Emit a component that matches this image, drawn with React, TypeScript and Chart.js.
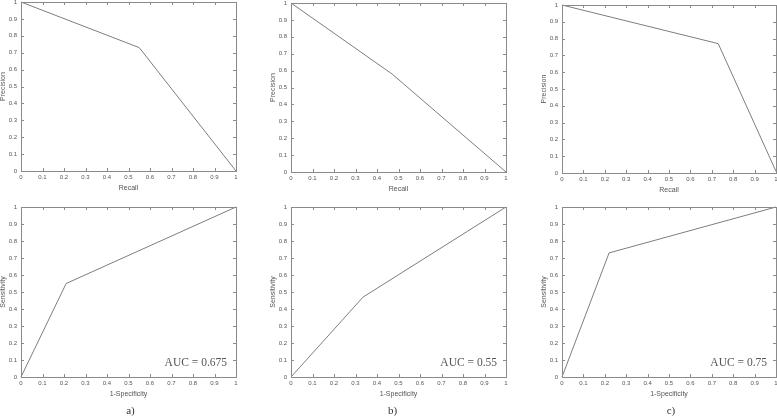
import React, { useEffect, useRef } from 'react';
import { Chart, registerables } from 'chart.js';

Chart.register(...registerables);

// ---- data ----
const tickValues = [0, 0.1, 0.2, 0.3, 0.4, 0.5, 0.6, 0.7, 0.8, 0.9, 1];
const tickLabels = ['0', '0.1', '0.2', '0.3', '0.4', '0.5', '0.6', '0.7', '0.8', '0.9', '1'];

const prRecallA = [0, 0.55, 1];
const prPrecisionA = [1, 0.73, 0];
const prRecallB = [0, 0.47, 1];
const prPrecisionB = [1, 0.58, 0];
const prRecallC = [0, 0.73, 1];
const prPrecisionC = [1, 0.77, 0.01];

const rocFprA = [0, 0.21, 1];
const rocTprA = [0, 0.55, 1];
const rocFprB = [0, 0.335, 1];
const rocTprB = [0, 0.47, 1];
const rocFprC = [0, 0.22, 1];
const rocTprC = [0, 0.73, 1];

const aucLabels = ['AUC = 0.675', 'AUC = 0.55', 'AUC = 0.75'];
const panelLabels = ['a)', 'b)', 'c)'];

// ---- drawing helpers ----
const BOX = '#8a8a8a';
const LINE = '#7d7d7d';
const TEXT = '#555555';

const matlabPlugin = {
  id: 'matlabBox',
  afterDatasetsDraw(chart: any, _args: any, opts: any) {
    const { ctx, chartArea } = chart;
    const { left, right, top, bottom } = chartArea;
    const xs = chart.scales.x;
    const ys = chart.scales.y;
    ctx.save();
    ctx.strokeStyle = BOX;
    ctx.lineWidth = 1;
    ctx.strokeRect(Math.round(left) + 0.5, Math.round(top) + 0.5, Math.round(right - left), Math.round(bottom - top));
    const tl = 3;
    ctx.beginPath();
    tickValues.forEach((v) => {
      const px = Math.round(xs.getPixelForValue(v)) + 0.5;
      ctx.moveTo(px, bottom);
      ctx.lineTo(px, bottom - tl);
      ctx.moveTo(px, top);
      ctx.lineTo(px, top + tl);
      const py = Math.round(ys.getPixelForValue(v)) + 0.5;
      ctx.moveTo(left, py);
      ctx.lineTo(left + tl, py);
      ctx.moveTo(right, py);
      ctx.lineTo(right - tl, py);
    });
    ctx.stroke();
    if (opts.auc) {
      ctx.fillStyle = TEXT;
      ctx.font = '11.5px "Liberation Serif", "Times New Roman", serif';
      ctx.textAlign = 'right';
      ctx.textBaseline = 'middle';
      ctx.fillText(opts.auc, right - 9, bottom - 14);
    }
    if (opts.panel) {
      ctx.fillStyle = '#333';
      ctx.font = '11px "Liberation Serif", "Times New Roman", serif';
      ctx.textAlign = 'center';
      ctx.textBaseline = 'middle';
      ctx.fillText(opts.panel, (left + right) / 2 + (opts.panelDx || 0), opts.panelY);
    }
    ctx.restore();
  },
};

type PanelProps = {
  xs: number[];
  ys: number[];
  xTitle: string;
  yTitle: string;
  cx: number; cy: number; cw: number; ch: number;
  L: number; R: number; T: number; B: number;
  auc?: string;
  panel?: string;
  panelDx?: number;
};

function Panel(p: PanelProps) {
  const ref = useRef<HTMLCanvasElement>(null);
  useEffect(() => {
    if (!ref.current) return;
    const yW = p.L - p.cx;
    const xH = p.cy + p.ch - p.B;
    const titleSize = 7;
    const lh = titleSize * 1.2;
    const xTitlePad = (p.cy + p.ch - (p.B + 17)) - lh / 2;
    const yTitlePad = (p.L - 18 - p.cx) - lh / 2;
    const tickFont = { family: '"Liberation Sans", Arial, sans-serif', size: 6 };
    const titleFont = { family: '"Liberation Sans", Arial, sans-serif', size: titleSize };
    const chart = new Chart(ref.current, {
      type: 'scatter',
      data: {
        datasets: [
          {
            data: p.xs.map((x, i) => ({ x, y: p.ys[i] })),
            showLine: true,
            borderColor: LINE,
            borderWidth: 1,
            pointRadius: 0,
            fill: false,
            clip: false as any,
          },
        ],
      },
      options: {
        responsive: false,
        animation: false,
        layout: { padding: { left: 0, top: p.T - p.cy, right: p.cx + p.cw - p.R, bottom: 0 } },
        plugins: {
          legend: { display: false },
          tooltip: { enabled: false },
          matlabBox: { auc: p.auc, panel: p.panel, panelY: 411 - p.cy, panelDx: p.panelDx || 0 },
        } as any,
        scales: {
          x: {
            type: 'linear',
            min: 0,
            max: 1,
            grid: { display: false, drawTicks: false },
            border: { display: false },
            afterBuildTicks: (s: any) => { s.ticks = tickValues.map((v) => ({ value: v })); },
            afterFit: (s: any) => {
              s.height = xH;
              s.paddingLeft = 0; s.paddingRight = 0; s.paddingTop = 0; s.paddingBottom = 0;
            },
            ticks: {
              autoSkip: false,
              maxRotation: 0,
              minRotation: 0,
              padding: 3,
              color: TEXT,
              font: tickFont,
              callback: (_v: any, i: number) => tickLabels[i],
            },
            title: { display: true, text: p.xTitle, color: TEXT, font: titleFont, padding: { top: 0, bottom: xTitlePad } },
          },
          y: {
            type: 'linear',
            min: 0,
            max: 1,
            grid: { display: false, drawTicks: false },
            border: { display: false },
            afterBuildTicks: (s: any) => { s.ticks = tickValues.map((v) => ({ value: v })); },
            afterFit: (s: any) => {
              s.width = yW;
              s.paddingLeft = 0; s.paddingRight = 0; s.paddingTop = 0; s.paddingBottom = 0;
            },
            ticks: {
              autoSkip: false,
              padding: 4,
              color: TEXT,
              font: tickFont,
              callback: (_v: any, i: number) => tickLabels[i],
            },
            title: { display: true, text: p.yTitle, color: TEXT, font: titleFont, padding: { top: yTitlePad, bottom: 0 } },
          },
        },
      } as any,
      plugins: [matlabPlugin],
    });
    return () => chart.destroy();
  }, []);
  return (
    <canvas
      ref={ref}
      width={p.cw}
      height={p.ch}
      style={{ position: 'absolute', left: p.cx, top: p.cy, width: p.cw, height: p.ch }}
    />
  );
}

export default function App() {
  return (
    <div style={{ position: 'absolute', left: 0, top: 0, width: 777, height: 416, background: '#fff', overflow: 'hidden' }}>
      <Panel xs={prRecallA} ys={prPrecisionA} xTitle="Recall" yTitle="Precision"
        cx={0} cy={0} cw={260} ch={200} L={21} R={236} T={2} B={171} />
      <Panel xs={prRecallB} ys={prPrecisionB} xTitle="Recall" yTitle="Precision"
        cx={260} cy={0} cw={260} ch={200} L={291} R={506} T={3} B={172} />
      <Panel xs={prRecallC} ys={prPrecisionC} xTitle="Recall" yTitle="Precision"
        cx={520} cy={0} cw={257} ch={200} L={562} R={776} T={5} B={173} />
      <Panel xs={rocFprA} ys={rocTprA} xTitle="1-Specificity" yTitle="Sensitivity"
        cx={0} cy={200} cw={260} ch={216} L={21} R={236} T={207} B={377}
        auc={aucLabels[0]} panel={panelLabels[0]} panelDx={2} />
      <Panel xs={rocFprB} ys={rocTprB} xTitle="1-Specificity" yTitle="Sensitivity"
        cx={260} cy={200} cw={260} ch={216} L={291} R={506} T={207} B={377}
        auc={aucLabels[1]} panel={panelLabels[1]} panelDx={-6} />
      <Panel xs={rocFprC} ys={rocTprC} xTitle="1-Specificity" yTitle="Sensitivity"
        cx={520} cy={200} cw={257} ch={216} L={562} R={776} T={207} B={377}
        auc={aucLabels[2]} panel={panelLabels[2]} panelDx={2} />
    </div>
  );
}
